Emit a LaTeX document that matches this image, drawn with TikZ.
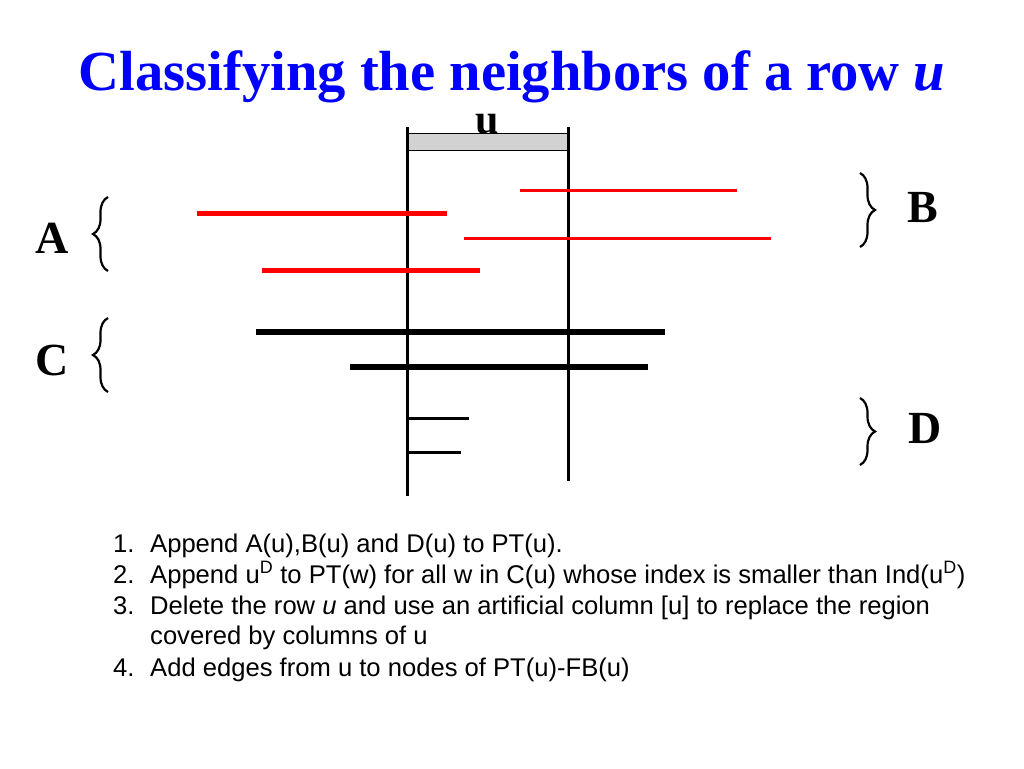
\documentclass[tikz,border=0pt]{standalone}
\usepackage{fontspec}
\setmainfont{Liberation Serif}
\newfontfamily\arialf{Liberation Sans}
\usetikzlibrary{decorations.pathreplacing}
\definecolor{titleblue}{RGB}{0,0,255}
\definecolor{linered}{RGB}{255,0,0}
\definecolor{bargray}{RGB}{210,210,210}
\tikzset{
  redthick/.style={draw=linered,line width=5pt},
  redthin/.style={draw=linered,line width=3pt},
  blackthick/.style={draw=black,line width=6pt},
  blackthin/.style={draw=black,line width=3pt},
  colline/.style={draw=black,line width=3pt},
  bracestyle/.style={draw=black,line width=2.2pt,decorate,decoration={brace,amplitude=15pt,aspect=0.5}},
  setlabel/.style={font=\fontsize{46}{50}\selectfont\bfseries,inner sep=0pt},
  listtext/.style={font=\arialf\fontsize{25.6}{30}\selectfont,anchor=base west,inner sep=0pt}
}
\begin{document}
\begin{tikzpicture}[x=1pt,y=-1pt]
\useasboundingbox (0,0) rectangle (1024,768);
% title
\node[anchor=base,inner sep=0pt,text=titleblue,font=\fontsize{56.6}{64}\selectfont\bfseries] (title) at (512,90) {Classifying the neighbors of a row \textit{u}};
% bar u
\node[draw=black,line width=0.6pt,fill=bargray,minimum width=161pt,minimum height=17pt,inner sep=0pt,anchor=north west] (bar) at (407,133) {};
\node[anchor=base,inner sep=0pt,font=\fontsize{42}{46}\selectfont\bfseries] (ulabel) at (487,133) {u};
% column lines
\coordinate (l1) at (407,127); \coordinate (l2) at (407,496);
\coordinate (r1) at (568,127); \coordinate (r2) at (568,481);
\draw[colline] (l1) -- (l2);
\draw[colline] (r1) -- (r2);
% A rows (red thick)
\coordinate (a1s) at (197,213); \coordinate (a1e) at (447,213);
\coordinate (a2s) at (262,270); \coordinate (a2e) at (480,270);
\draw[redthick] (a1s) -- (a1e);
\draw[redthick] (a2s) -- (a2e);
% B rows (red thin)
\coordinate (b1s) at (520,190); \coordinate (b1e) at (737,190);
\coordinate (b2s) at (464,238); \coordinate (b2e) at (771,238);
\draw[redthin] (b1s) -- (b1e);
\draw[redthin] (b2s) -- (b2e);
% C rows (black thick)
\coordinate (c1s) at (256,332); \coordinate (c1e) at (665,332);
\coordinate (c2s) at (350,367); \coordinate (c2e) at (648,367);
\draw[blackthick] (c1s) -- (c1e);
\draw[blackthick] (c2s) -- (c2e);
% D rows
\coordinate (d1s) at (409,418); \coordinate (d1e) at (469,418);
\coordinate (d2s) at (407,452); \coordinate (d2e) at (461,452);
\draw[blackthin] (d1s) -- (d1e);
\draw[blackthin] (d2s) -- (d2e);
% braces
\coordinate (abr1) at (108,271); \coordinate (abr2) at (108,197);
\coordinate (cbr1) at (108,392); \coordinate (cbr2) at (108,318);
\coordinate (bbr1) at (860,173); \coordinate (bbr2) at (860,247);
\coordinate (dbr1) at (860,398); \coordinate (dbr2) at (860,465);
\draw[bracestyle] (abr1) -- (abr2);
\draw[bracestyle] (cbr1) -- (cbr2);
\draw[bracestyle] (bbr1) -- (bbr2);
\draw[bracestyle] (dbr1) -- (dbr2);
% labels
\node[setlabel] (la) at (52,238) {A};
\node[setlabel] (lc) at (52,360) {C};
\node[setlabel] (lb) at (923,208) {B};
\node[setlabel] (ld) at (925,428) {D};
% list
\node[listtext] (n1) at (113,552) {1.};
\node[listtext] (t1) at (150,552) {Append A(u),B(u) and D(u) to PT(u).};
\node[listtext] (n2) at (113,583) {2.};
\node[listtext] (t2) at (150,583) {Append u\textsuperscript{D} to PT(w) for all w in C(u) whose index is smaller than Ind(u\textsuperscript{D})};
\node[listtext] (n3) at (113,614) {3.};
\node[listtext] (t3) at (150,614) {Delete the row \textit{u} and use an artificial column [u] to replace the region};
\node[listtext] (t3b) at (150,644) {covered by columns of u};
\node[listtext] (n4) at (113,676) {4.};
\node[listtext] (t4) at (150,676) {Add edges from u to nodes of PT(u)-FB(u)};
\end{tikzpicture}
\end{document}
